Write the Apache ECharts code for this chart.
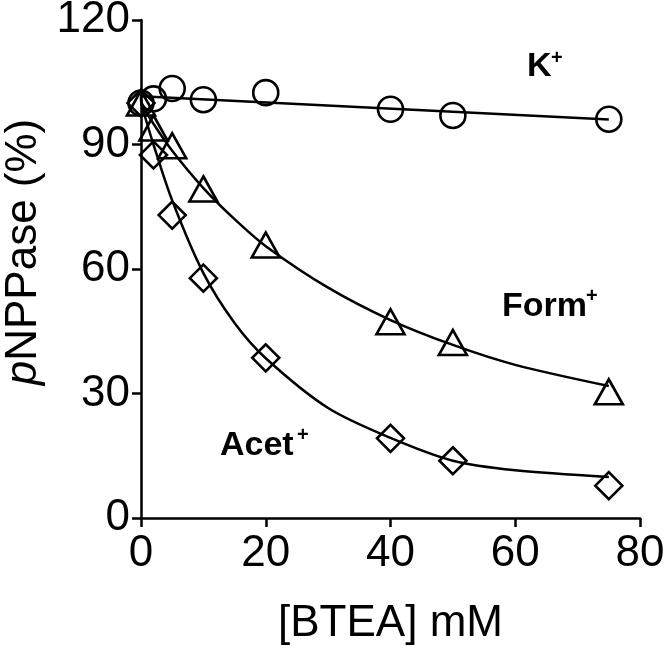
<!DOCTYPE html>
<html>
<head>
<meta charset="utf-8">
<script src="https://cdn.jsdelivr.net/npm/echarts@6/dist/echarts.min.js"></script>
<style>
  html, body { margin: 0; padding: 0; background: #fff; }
  #chart { width: 666px; height: 654px; }
</style>
</head>
<body>
<div id="chart"></div>
<script>
// measured points, [BTEA] mM vs pNPPase %
var kPoints    = [[0, 100], [2, 101], [5, 103.5], [10, 100.8], [20, 102.5], [40, 98.5], [50, 97], [75, 96.1]];
var formPoints = [[0, 100], [2, 94], [5, 89.7], [10, 79.3], [20, 65.8], [40, 47.3], [50, 42.3], [75, 30.4]];
var acetPoints = [[0, 100], [2, 87.5], [5, 73], [10, 57.8], [20, 38.6], [40, 19.2], [50, 13.8], [75, 7.8]];

// fitted curves
var kFit    = [[0, 101.6], [75, 96.0]];
var formFit = [[0, 100], [2, 95], [5, 88.5], [10, 79.5], [15, 72], [20, 65.5], [30, 55.5], [40, 47.7], [50, 41.7], [60, 36.9], [75, 31.8]];
var acetFit = [[0, 100], [2, 90], [5, 76.5], [10, 59], [15, 47], [20, 38.5], [30, 26.5], [40, 19.3], [50, 13.8], [60, 11.5], [75, 9.9]];

var xTicks = [0, 20, 40, 60, 80];
var yTicks = [0, 30, 60, 90, 120];

var font = '"Liberation Sans", Arial, sans-serif';

function curve(data) {
    return {
        type: 'line',
        data: data,
        smooth: 0.3,
        symbol: 'none',
        lineStyle: { color: '#000', width: 2.5 },
        z: 2,
        silent: true
    };
}

function marks(data, symbol, size) {
    return {
        type: 'scatter',
        data: data,
        symbol: symbol,
        symbolSize: size,
        itemStyle: { color: 'rgba(0,0,0,0)', borderColor: '#000', borderWidth: 2.6, opacity: 1 },
        z: 3,
        silent: true
    };
}

var myChart = echarts.init(document.getElementById('chart'));
var option = {
    animation: false,
    backgroundColor: '#fff',
    grid: { left: 141, right: 26, top: 20, bottom: 136, containLabel: false, outerBoundsMode: 'none' },
    xAxis: {
        type: 'value',
        min: xTicks[0],
        max: xTicks[xTicks.length - 1],
        interval: 20,
        name: '[BTEA] mM',
        nameLocation: 'middle',
        nameGap: 84,
        nameTextStyle: { fontFamily: font, fontSize: 44, color: '#000' },
        axisLine: { lineStyle: { color: '#000', width: 2.5 } },
        axisTick: { length: 9, lineStyle: { color: '#000', width: 2.5 } },
        axisLabel: { fontFamily: font, fontSize: 44, color: '#000', margin: 14 },
        splitLine: { show: false }
    },
    yAxis: {
        type: 'value',
        min: yTicks[0],
        max: yTicks[yTicks.length - 1],
        interval: 30,
        name: '{i|p}NPPase (%)',
        nameLocation: 'middle',
        nameGap: 92,
        nameTextStyle: {
            fontFamily: font, fontSize: 44, color: '#000',
            padding: [0, 0, 0, 34],
            rich: { i: { fontFamily: font, fontSize: 44, fontStyle: 'italic', color: '#000' } }
        },
        axisLine: { lineStyle: { color: '#000', width: 2.5 } },
        axisTick: { length: 9, lineStyle: { color: '#000', width: 2.5 } },
        axisLabel: { fontFamily: font, fontSize: 44, color: '#000', margin: 11 },
        splitLine: { show: false }
    },
    graphic: [
        { type: 'text', left: 527, top: 50, style: { text: 'K', font: 'bold 34px ' + font, fill: '#000' } },
        { type: 'text', left: 551, top: 48, style: { text: '+', font: 'bold 20px ' + font, fill: '#000' } },
        { type: 'text', left: 502, top: 290, style: { text: 'Form', font: 'bold 34px ' + font, fill: '#000' } },
        { type: 'text', left: 586, top: 286, style: { text: '+', font: 'bold 20px ' + font, fill: '#000' } },
        { type: 'text', left: 220, top: 429, style: { text: 'Acet', font: 'bold 34px ' + font, fill: '#000' } },
        { type: 'text', left: 297, top: 425, style: { text: '+', font: 'bold 20px ' + font, fill: '#000' } }
    ],
    series: [
        curve(kFit),
        curve(formFit),
        curve(acetFit),
        marks(kPoints, 'circle', 25),
        marks(formPoints, 'triangle', [28, 25]),
        marks(acetPoints, 'diamond', [27, 27])
    ]
};
myChart.setOption(option);
</script>
</body>
</html>
